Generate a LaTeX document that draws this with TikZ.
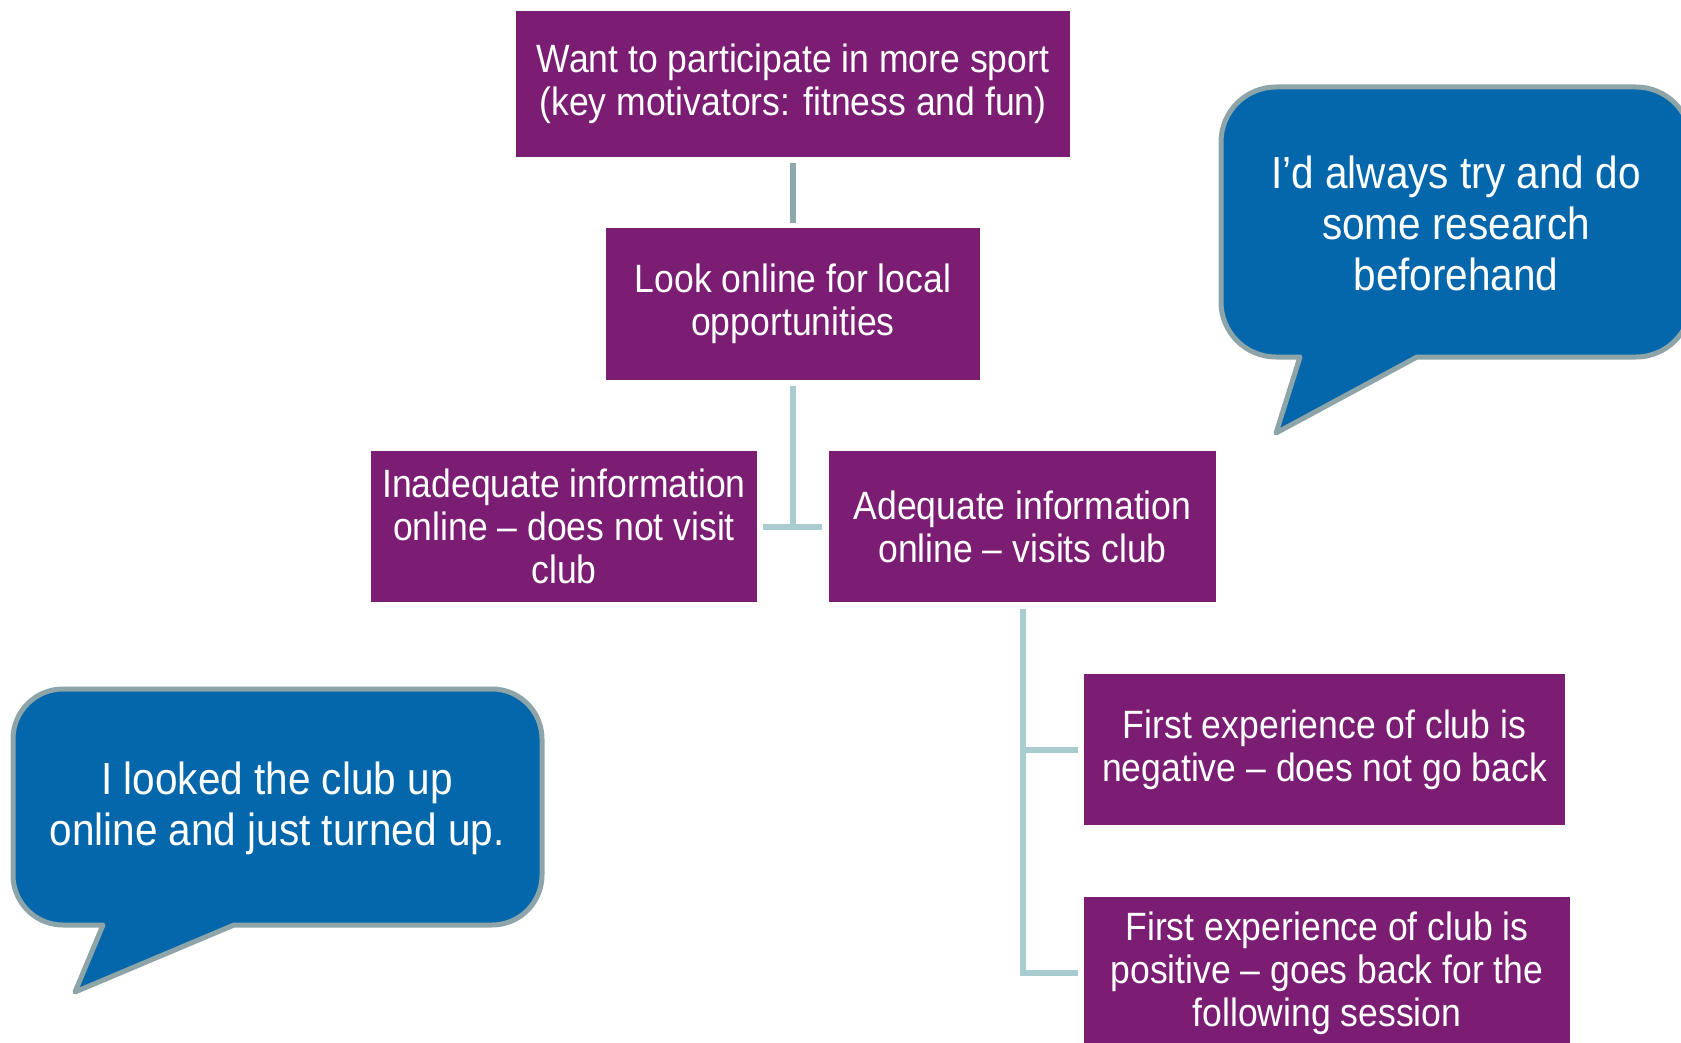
\documentclass[tikz,border=0pt]{standalone}
\usepackage{fontspec}
\setmainfont{Liberation Sans}[FakeStretch=0.9]

\definecolor{plum}{HTML}{7A1D73}
\definecolor{quoteblue}{HTML}{0467AB}
\definecolor{rimgray}{HTML}{8DA4A8}
\definecolor{linkteal}{HTML}{A8CCCF}
\definecolor{linkgray}{HTML}{8FA8AC}

\tikzset{
    stage/.style={fill=plum, text=white, align=center, inner sep=0pt,
        font=\fontsize{39.5}{43}\selectfont},
    link/.style={line width=6pt, draw=linkteal},
    speech/.style={fill=quoteblue, draw=rimgray, line width=5pt, line join=round},
    quotetext/.style={text=white, align=center, font=\fontsize{45}{51}\selectfont}
}

\begin{document}
\begin{tikzpicture}[x=1pt, y=1pt]

\useasboundingbox (0,0) rectangle (1681,-1043);

\node[stage, minimum width=554pt, minimum height=146pt] (want) at (793,-84)
    {Want to participate in more sport\\(key motivators: fitness and fun)};
\node[stage, minimum width=374pt, minimum height=152pt] (look) at (793,-304)
    {Look online for local\\opportunities};
\node[stage, minimum width=386pt, minimum height=151pt] (inadequate) at (564,-526.5)
    {Inadequate information\\online – does not visit\\club};
\node[stage, minimum width=387pt, minimum height=151pt] (adequate) at (1022.5,-526.5)
    {Adequate information\\online – visits club};
\node[stage, minimum width=481pt, minimum height=151pt] (negative) at (1324.5,-749.5)
    {First experience of club is\\negative – does not go back};
\node[stage, minimum width=486pt, minimum height=152pt] (positive) at (1327,-973)
    {First experience of club is\\positive – goes back for the\\following session};

\draw[link, draw=linkgray] ([yshift=-6pt]want.south) -- ([yshift=5pt]look.north);
\draw[link] ([yshift=-6pt]look.south) -- (look.south |- inadequate.east);
\draw[link] ([xshift=6pt]inadequate.east) -- ([xshift=-7pt]adequate.west);
\draw[link] ([yshift=-7pt]adequate.south) |- ([xshift=-6pt]positive.west);
\draw[link] (adequate.south |- negative.west) -- ([xshift=-6pt]negative.west);

\draw[speech] (1300,-357) -- (1276,-433) -- (1417,-357) -- (1636,-357)
    arc[start angle=-90, end angle=0, radius=55] -- (1691,-142)
    arc[start angle=0, end angle=90, radius=55] -- (1276,-87)
    arc[start angle=90, end angle=180, radius=55] -- (1221,-302)
    arc[start angle=180, end angle=270, radius=55] -- cycle;
\node[quotetext] (research) at (1456,-223)
    {I’d always try and do\\some research\\beforehand};

\draw[speech] (103,-925) -- (75,-992) -- (234,-925) -- (492,-925)
    arc[start angle=-90, end angle=0, radius=50] -- (542,-739)
    arc[start angle=0, end angle=90, radius=50] -- (63,-689)
    arc[start angle=90, end angle=180, radius=50] -- (13,-875)
    arc[start angle=180, end angle=270, radius=50] -- cycle;
\node[quotetext] (turnedup) at (277,-808)
    {I looked the club up\\online and just turned up.};

\end{tikzpicture}
\end{document}
